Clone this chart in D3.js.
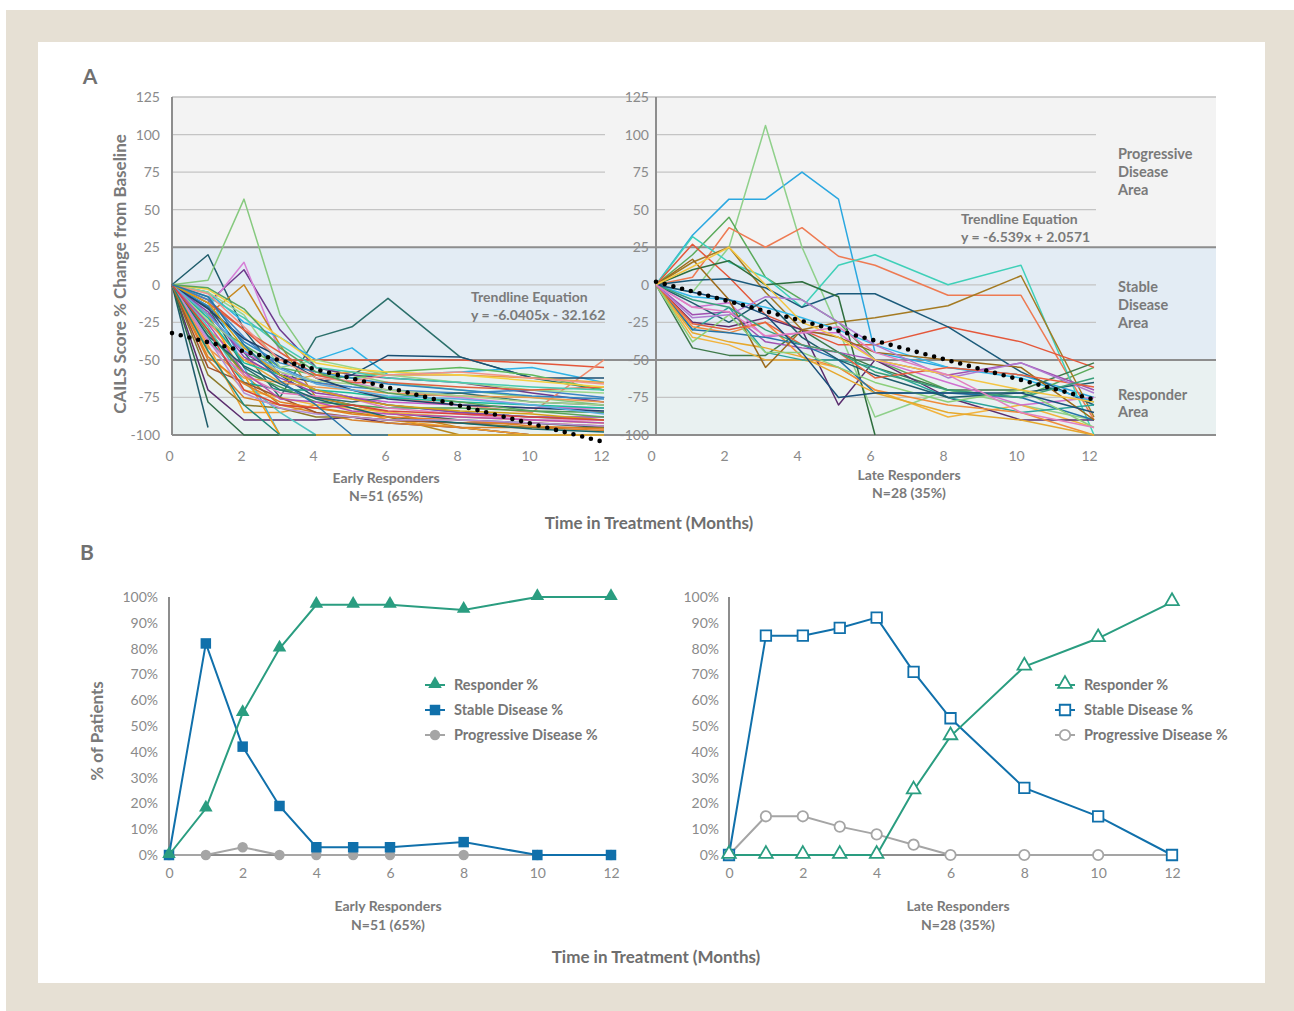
<!DOCTYPE html>
<html>
<head>
<meta charset="utf-8">
<script src="https://cdn.jsdelivr.net/npm/d3@7"></script>
<style>
  html, body { margin: 0; padding: 0; background: #fff; }
  svg { display: block; font-family: Lato, "Open Sans", sans-serif; }
</style>
</head>
<body>
<svg id="chart" width="1294" height="1011"></svg>
<script>
// ---------- Panel A: CAILS score % change from baseline ----------
const monthsA = [0, 1, 2, 3, 4, 5, 6, 8, 10, 12];
const scoreTicks = [125, 100, 75, 50, 25, 0, -25, -50, -75, -100];
const monthTicks = [0, 2, 4, 6, 8, 10, 12];

// Early responders (N=51): one row per patient, values at monthsA
const earlyScores = [
  [0, 20, -30, -60, -75, -80, -85, -90, -92, -95],
  [0, -95, null, null, null, null, null, null, null, null],
  [0, 3, 57, -20, -55, -60, -65, -70, -75, -80],
  [0, -12, 10, -30, -55, -60, -62, -65, -72, -78],
  [0, -15, 15, -45, -60, -65, -70, -75, -80, -85],
  [0, -20, 0, -40, -75, -80, -85, -95, -100, -100],
  [0, -70, -90, -90, -90, -88, -92, -95, -100, -100],
  [0, -78, -100, -100, -100, null, null, null, null, null],
  [0, -20, -45, -75, -35, -28, -9, -48, -62, -70],
  [0, -5, -25, -35, -50, -42, -60, -58, -55, -65],
  [0, -10, -30, -50, -50, -50, -50, -50, -52, -55],
  [0, -25, -50, -60, -65, -70, -75, -80, -85, -50],
  [0, -15, -45, -60, -65, -60, -47, -48, -62, -62],
  [0, -30, -60, -80, -82, -85, -88, -100, -100, -100],
  [0, -40, -85, -85, -80, -82, -90, -95, -100, -100],
  [0, -5, -55, -100, -100, null, null, null, null, null],
  [0, -35, -65, -70, -70, -75, -80, -85, -88, -90],
  [0, -25, -40, -55, -60, -62, -58, -55, -60, -70],
  [0, -30, -50, -65, -60, -58, -60, -60, -62, -65],
  [0, -20, -45, -58, -70, -75, -78, -80, -82, -82],
  [0, -10, -35, -55, -65, -68, -70, -72, -70, -75],
  [0, -45, -70, -75, -80, -82, -85, -88, -90, -92],
  [0, -50, -75, -80, -85, -90, -92, -95, -95, -97],
  [0, -60, -80, -82, -88, -88, -90, -92, -95, -95],
  [0, -15, -55, -70, -75, -78, -75, -72, -78, -80],
  [0, -5, -20, -55, -50, -55, -60, -65, -70, -72],
  [0, -12, -30, -45, -60, -65, -65, -68, -70, -68],
  [0, -28, -65, -85, -100, -100, -100, -100, -100, -100],
  [0, -20, -60, -100, -100, -100, -100, -100, -100, -100],
  [0, -8, -22, -40, -55, -58, -62, -65, -68, -70],
  [0, -18, -48, -62, -72, -75, -80, -85, -88, -88],
  [0, -22, -52, -60, -70, -72, -75, -78, -80, -82],
  [0, -32, -58, -68, -78, -80, -82, -82, -84, -85],
  [0, -38, -60, -72, -74, -76, -82, -86, -90, -90],
  [0, -42, -62, -65, -68, -70, -72, -74, -75, -78],
  [0, -14, -38, -52, -58, -62, -66, -70, -74, -76],
  [0, -24, -42, -58, -64, -66, -70, -74, -78, -80],
  [0, -3, -18, -35, -52, -56, -58, -60, -64, -68],
  [0, -55, -65, -75, -85, -88, -90, -92, -92, -94],
  [0, -26, -58, -76, -78, -84, -86, -88, -90, -92],
  [0, -16, -36, -48, -62, -70, -76, -80, -82, -84],
  [0, -6, -28, -50, -62, -64, -60, -58, -62, -66],
  [0, -34, -54, -66, -76, -82, -88, -92, -96, -98],
  [0, -48, -66, -78, -82, -86, -88, -90, -94, -96],
  [0, -2, -16, -42, -58, -66, -72, -78, -84, -88],
  [0, -36, -72, -82, -86, -88, -90, -90, -92, -94],
  [0, -20, -44, -56, -66, -70, -74, -76, -80, -86],
  [0, -44, -80, -100, -100, null, null, null, null, null],
  [0, -12, -42, -60, -70, -76, -80, -84, -86, -90],
  [0, -30, -70, -80, -82, -80, -84, -86, -88, -90],
  [0, -8, -40, -64, -80, -100, -100, null, null, null]
];

// Late responders (N=28)
const lateScores = [
  [0, 33, 57, 57, 75, 57, -45, -55, -60, -75],
  [0, -5, 25, 106, 25, -30, -88, -70, -80, -90],
  [0, 20, 45, 5, -10, -25, -50, -70, -75, -55],
  [0, 5, 38, 25, 38, 19, 13, -7, -7, -90],
  [0, 32, 15, 5, -15, 13, 20, 0, 13, -100],
  [0, 15, 25, -5, -30, -25, -22, -14, 6, -88],
  [0, 27, 5, -20, -30, -40, -40, -28, -38, -55],
  [0, 3, 4, -2, -15, -6, -6, -28, -58, -80],
  [0, 10, 16, 0, 2, -8, -100, null, null, null],
  [0, -42, -47, -47, -30, -45, -55, -70, -70, -52],
  [0, -35, -40, -50, -50, -55, -70, -88, -80, -95],
  [0, -20, -18, -38, -42, -45, -50, -60, -52, -70],
  [0, -25, -28, -22, -30, -80, -50, -75, -90, -90],
  [0, -15, -12, -35, -32, -32, -50, -65, -80, -75],
  [0, -8, -10, -15, -22, -30, -40, -55, -62, -78],
  [0, -30, -15, -45, -50, -50, -55, -75, -85, -80],
  [0, -28, -32, -25, -48, -55, -70, -80, -85, -100],
  [0, -30, -32, -35, -40, -50, -72, -72, -75, -90],
  [0, -32, -38, -42, -48, -60, -72, -85, -90, -100],
  [0, 17, -10, -55, -30, -35, -45, -50, -55, -90],
  [0, -12, -25, -10, -35, -50, -60, -75, -72, -65],
  [0, -38, -20, -45, -45, -55, -65, -78, -70, -95],
  [0, -26, -30, -25, -40, -45, -62, -55, -60, -68],
  [0, -22, -20, -8, -10, -25, -40, -62, -52, -72],
  [0, -10, -15, -30, -40, -45, -58, -70, -75, -62],
  [0, -5, -10, -20, -45, -75, -72, -72, -72, -85],
  [0, 12, 25, 0, -25, -35, -50, -60, -70, -78],
  [0, -15, -18, -34, -32, -28, -45, -60, -85, -95]
];

const earlyColors = ["#1f5c6b", "#1f5c6b", "#86c97e", "#6d3a8c", "#d77fd6", "#c7881f",
  "#5b2d6e", "#2e6b45", "#2b6f6a", "#2eb2e6", "#e4573a", "#f08a6a", "#1b4f72",
  "#b8861c", "#f0a030", "#38b6e8", "#16a085", "#5fb85c", "#e8a33d", "#c65bc6",
  "#3d85c6", "#f2b640", "#d9822b", "#8c7a2a", "#2b6e6e", "#9ad58a", "#e0603e",
  "#4fc3c0", "#f39c12", "#48c9b0", "#8e44ad", "#1abc9c", "#4c9a52", "#e07bbf",
  "#eb984e", "#2e86c1", "#a9d18e", "#f4d03f", "#a0522d", "#b84fb0", "#21416b",
  "#f1948a", "#17676b", "#e67e22", "#58a55c", "#b68fd6", "#5dade2", "#20897a",
  "#d4a017", "#d9453a", "#2874a6"];
const lateColors = ["#2aa7e0", "#8fd08a", "#5aaa5a", "#ee7a52", "#3fd0b8", "#a47a22",
  "#e4573a", "#1b5a7a", "#2f6e3e", "#3f7a4a", "#f2b33d", "#a050b0", "#5b2d6e",
  "#d070d0", "#34b8e8", "#2aa39a", "#f08c3a", "#2574a9", "#e6a82d", "#9c6a1a",
  "#1f5c6b", "#8ccf7a", "#e8603e", "#b07ad0", "#3aa07a", "#1a4f7a", "#f4c542",
  "#e37fc0"];

const trendEarly = [-6.0405, -32.162];   // slope, intercept
const trendLate = [-6.539, 2.0571];

// ---------- Panel B: % of patients by category ----------
const monthsB = [0, 1, 2, 3, 4, 5, 6, 8, 10, 12];
const pctTicks = [0, 10, 20, 30, 40, 50, 60, 70, 80, 90, 100];
const earlyResponder = [0, 18, 55, 80, 97, 97, 97, 95, 100, 100];
const earlyStable = [0, 82, 42, 19, 3, 3, 3, 5, 0, 0];
const earlyProgressive = [0, 0, 3, 0, 0, 0, 0, 0, 0, 0];
const lateResponder = [0, 0, 0, 0, 0, 25, 46, 73, 84, 98];
const lateStable = [0, 85, 85, 88, 92, 71, 53, 26, 15, 0];
const lateProgressive = [0, 15, 15, 11, 8, 4, 0, 0, 0, 0];
const legendLabels = ["Responder %", "Stable Disease %", "Progressive Disease %"];

const GREEN = "#2a9d80", BLUE = "#1070ab", GREY = "#a5a5a5";
const TXT = "#7a7a7a";
const TICK = "#8a8a8a";

const svg = d3.select("#chart");

// frame
svg.append("rect").attr("x", 0).attr("y", 0).attr("width", 1294).attr("height", 1011).attr("fill", "#fff");
svg.append("rect").attr("x", 6).attr("y", 10).attr("width", 1288).attr("height", 1001).attr("fill", "#e6e0d4");
svg.append("rect").attr("x", 38).attr("y", 42).attr("width", 1227).attr("height", 941).attr("fill", "#fff");

// ===== Panel A =====
const yA = d3.scaleLinear().domain([-100, 125]).range([435, 97]);
const xAL = d3.scaleLinear().domain([0, 12]).range([172, 604]);
const xAR = d3.scaleLinear().domain([0, 12]).range([656, 1094]);
const bandX0 = 172, bandX1 = 1216;

const bands = [[125, 25, "#f3f3f3"], [25, -50, "#e3ecf4"], [-50, -100, "#e9f1f1"]];
bands.forEach(([a, b, c]) => {
  svg.append("rect").attr("x", bandX0).attr("y", yA(a)).attr("width", bandX1 - bandX0)
    .attr("height", yA(b) - yA(a)).attr("fill", c);
});

const gA = svg.append("g");
// thin gridlines inside each panel
[[xAL, 605], [xAR, 1096]].forEach(([xs, end]) => {
  [100, 75, 50, 0, -25, -75].forEach(v => {
    gA.append("line").attr("x1", xs(0)).attr("x2", end).attr("y1", yA(v)).attr("y2", yA(v))
      .attr("stroke", "#c4c4c4").attr("stroke-width", 1.2);
  });
});
// area boundaries
gA.append("line").attr("x1", bandX0).attr("x2", bandX1).attr("y1", yA(125)).attr("y2", yA(125))
  .attr("stroke", "#c2c2c2").attr("stroke-width", 1.5);
[25, -50, -100].forEach(v => {
  gA.append("line").attr("x1", bandX0).attr("x2", bandX1).attr("y1", yA(v)).attr("y2", yA(v))
    .attr("stroke", "#8d8d8d").attr("stroke-width", 2);
});
[xAL, xAR].forEach(xs => {
  gA.append("line").attr("x1", xs(0)).attr("x2", xs(0)).attr("y1", yA(125)).attr("y2", yA(-100))
    .attr("stroke", "#8d8d8d").attr("stroke-width", 2);
});

// axes (labels only)
function styleTicks(g) {
  g.select(".domain").remove();
  g.selectAll(".tick text").attr("font-size", 14).attr("fill", TICK)
    .attr("font-family", "Lato, sans-serif");
}
function yAxisA(x) {
  const g = svg.append("g").attr("transform", `translate(${x},0)`)
    .call(d3.axisLeft(yA).tickValues(scoreTicks).tickSize(0).tickPadding(0).tickFormat(d => String(d)));
  styleTicks(g);
}
yAxisA(160);
yAxisA(649);
function xAxisA(xs, dx) {
  const g = svg.append("g").attr("transform", `translate(${dx},451)`)
    .call(d3.axisBottom(xs).tickValues(monthTicks).tickSize(0).tickPadding(0));
  styleTicks(g);
}
xAxisA(xAL, -3);
xAxisA(xAR, -5);

// patient trajectories
function drawSpaghetti(rows, colors, xs) {
  const line = d3.line().defined(d => d[1] != null).x(d => xs(d[0])).y(d => yA(d[1]));
  const g = svg.append("g");
  rows.forEach((row, i) => {
    g.append("path").datum(monthsA.map((m, j) => [m, row[j]]))
      .attr("d", line).attr("fill", "none").attr("stroke", colors[i % colors.length])
      .attr("stroke-width", 1.5).attr("stroke-linejoin", "round");
  });
}
drawSpaghetti(earlyScores, earlyColors, xAL);
drawSpaghetti(lateScores, lateColors, xAR);

// linear trendlines
function drawTrend(coef, xs) {
  const pts = [0, 12].map(m => [xs(m), yA(coef[0] * m + coef[1])]);
  svg.append("line").attr("x1", pts[0][0]).attr("y1", pts[0][1]).attr("x2", pts[1][0]).attr("y2", pts[1][1])
    .attr("stroke", "#000").attr("stroke-width", 4.6).attr("stroke-linecap", "round")
    .attr("stroke-dasharray", "0,9");
}
drawTrend(trendEarly, xAL);
drawTrend(trendLate, xAR);

function txt(x, y, s, opt = {}) {
  return svg.append("text").attr("x", x).attr("y", y).text(s)
    .attr("font-size", opt.size || 14).attr("font-weight", opt.weight || 700)
    .attr("fill", opt.fill || TXT).attr("text-anchor", opt.anchor || "middle");
}

txt(471, 302, "Trendline Equation", { anchor: "start" });
txt(471, 320, "y = -6.0405x - 32.162", { anchor: "start" });
txt(961, 224, "Trendline Equation", { anchor: "start" });
txt(961, 242, "y = -6.539x + 2.0571", { anchor: "start" });

[["Progressive", 159], ["Disease", 177], ["Area", 195],
 ["Stable", 292], ["Disease", 310], ["Area", 328],
 ["Responder", 400], ["Area", 417]].forEach(([s, y]) => txt(1118, y, s, { anchor: "start", size: 14.5 }));

txt(386, 483, "Early Responders");
txt(386, 501, "N=51 (65%)");
txt(909, 480, "Late Responders");
txt(909, 498, "N=28 (35%)");
txt(649, 529, "Time in Treatment (Months)", { size: 17, fill: "#6e6e6e" });
txt(90, 84, "A", { size: 21, fill: "#707070" });
svg.append("text").attr("transform", "translate(126,274) rotate(-90)").attr("text-anchor", "middle")
  .attr("font-size", 17).attr("font-weight", 700).attr("fill", TXT).text("CAILS Score % Change from Baseline");

// ===== Panel B =====
const yB = d3.scaleLinear().domain([0, 100]).range([855, 597]);
const xBL = d3.scaleLinear().domain([0, 12]).range([169, 611]);
const xBR = d3.scaleLinear().domain([0, 12]).range([729, 1172]);

function axesB(xs, labelX) {
  const g = svg.append("g").attr("transform", `translate(${labelX},0)`)
    .call(d3.axisLeft(yB).tickValues(pctTicks).tickSize(0).tickPadding(0).tickFormat(d => d + "%"));
  styleTicks(g);
  const gx = svg.append("g").attr("transform", `translate(0,868)`)
    .call(d3.axisBottom(xs).tickValues(monthTicks).tickSize(0).tickPadding(0));
  styleTicks(gx);
  svg.append("line").attr("x1", xs(0)).attr("x2", xs(0)).attr("y1", yB(100)).attr("y2", yB(0))
    .attr("stroke", "#8d8d8d").attr("stroke-width", 2);
  svg.append("line").attr("x1", xs(0)).attr("x2", xs(12) + 1).attr("y1", yB(0)).attr("y2", yB(0))
    .attr("stroke", "#8d8d8d").attr("stroke-width", 2);
}
axesB(xBL, 158);
axesB(xBR, 719);

const triSym = d3.symbol().type(d3.symbolTriangle).size(80);
const sqSym = d3.symbol().type(d3.symbolSquare).size(110);
const cirSym = d3.symbol().type(d3.symbolCircle).size(85);

function seriesB(vals, xs, color, sym, hollow, dy) {
  const pts = monthsB.map((m, i) => [xs(m), yB(vals[i])]);
  svg.append("path").attr("d", d3.line()(pts)).attr("fill", "none").attr("stroke", color).attr("stroke-width", 2);
  pts.forEach(p => {
    svg.append("path").attr("d", sym).attr("transform", `translate(${p[0]},${p[1] + (dy || 0)})`)
      .attr("fill", hollow ? "#fff" : color).attr("stroke", color).attr("stroke-width", hollow ? 1.8 : 0);
  });
}
// early: filled markers
seriesB(earlyProgressive, xBL, GREY, cirSym, false);
seriesB(earlyStable, xBL, BLUE, sqSym, false);
seriesB(earlyResponder, xBL, GREEN, triSym, false, -1);
// late: hollow markers
seriesB(lateProgressive, xBR, GREY, cirSym, true);
seriesB(lateStable, xBR, BLUE, sqSym, true);
seriesB(lateResponder, xBR, GREEN, triSym, true, -1);

function legendB(x, hollow) {
  const items = [[GREEN, triSym], [BLUE, sqSym], [GREY, cirSym]];
  items.forEach(([c, s], i) => {
    const y = 685 + i * 25;
    svg.append("line").attr("x1", x - 10).attr("x2", x + 10).attr("y1", y).attr("y2", y)
      .attr("stroke", c).attr("stroke-width", 2);
    svg.append("path").attr("d", s).attr("transform", `translate(${x},${y - (i === 0 ? 1 : 0)})`)
      .attr("fill", hollow ? "#fff" : c).attr("stroke", c).attr("stroke-width", hollow ? 1.8 : 0);
    txt(x + 19, y + 5, legendLabels[i], { anchor: "start", fill: "#767676", size: 14.5 });
  });
}
legendB(435, false);
legendB(1065, true);

txt(388, 911, "Early Responders");
txt(388, 930, "N=51 (65%)");
txt(958, 911, "Late Responders");
txt(958, 930, "N=28 (35%)");
txt(656, 963, "Time in Treatment (Months)", { size: 17, fill: "#6e6e6e" });
txt(87, 560, "B", { size: 21, fill: "#707070" });
svg.append("text").attr("transform", "translate(103,731) rotate(-90)").attr("text-anchor", "middle")
  .attr("font-size", 17).attr("font-weight", 700).attr("fill", TXT).text("% of Patients");
</script>
</body>
</html>
